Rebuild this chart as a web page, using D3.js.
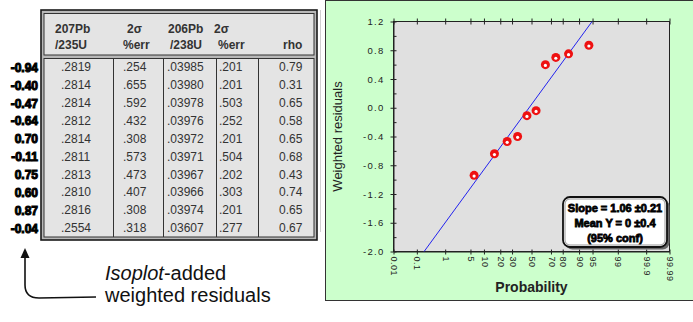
<!DOCTYPE html>
<html><head><meta charset="utf-8">
<script src="https://cdn.jsdelivr.net/npm/d3@7"></script>
<style>
html,body{margin:0;padding:0;background:#fff;}
svg{display:block;font-family:Arial,"Liberation Sans",sans-serif;}
</style></head><body>
<svg id="c" width="693" height="322"></svg>
<script>
// ---------- data ----------
const headerTop = ["207Pb", "2σ", "206Pb", "2σ", ""];
const headerBottom = ["/235U", "%err", "/238U", "%err", "rho"];
const ratio207_235 = [".2819", ".2814", ".2814", ".2812", ".2814", ".2811", ".2813", ".2810", ".2816", ".2554"];
const err207 = [".254", ".655", ".592", ".432", ".308", ".573", ".473", ".407", ".308", ".318"];
const ratio206_238 = [".03985", ".03980", ".03978", ".03976", ".03972", ".03971", ".03967", ".03966", ".03974", ".03607"];
const err206 = [".201", ".201", ".503", ".252", ".201", ".504", ".202", ".303", ".201", ".277"];
const rho = ["0.79", "0.31", "0.65", "0.58", "0.65", "0.68", "0.43", "0.74", "0.65", "0.67"];
const residuals = [-0.94, -0.40, -0.47, -0.64, 0.70, -0.11, 0.75, 0.60, 0.87, -0.04];
const plotProbabilities = [6.1, 15.9, 25.6, 35.4, 45.1, 54.9, 64.6, 74.4, 84.1, 93.9];
const probTicks = [0.01, 0.1, 1, 5, 10, 20, 30, 50, 70, 80, 90, 95, 99, 99.9, 99.99];
const residTicks = [1.2, 0.8, 0.4, 0.0, -0.4, -0.8, -1.2, -1.6, -2.0];
const residMinorTicks = [1.0, 0.6, 0.2, -0.2, -0.6, -1.0, -1.4, -1.8];
const fitSlope = 0.707, fitIntercept = 0.046;
const statsLines = ["Slope = 1.06 ±0.21", "Mean Y = 0 ±0.4", "(95% conf)"];
const noteLine1 = ["Isoplot", "-added"];
const noteLine2 = "weighted residuals";

// ---------- helpers ----------
function probit(p) {
  const a=[-3.969683028665376e+01,2.209460984245205e+02,-2.759285104469687e+02,1.383577518672690e+02,-3.066479806614716e+01,2.506628277459239e+00];
  const b=[-5.447609879822406e+01,1.615858368580409e+02,-1.556989798598866e+02,6.680131188771972e+01,-1.328068155288572e+01];
  const c=[-7.784894002430293e-03,-3.223964580411365e-01,-2.400758277161838e+00,-2.549732539343734e+00,4.374664141464968e+00,2.938163982698783e+00];
  const d=[7.784695709041462e-03,3.224671290700398e-01,2.445134137142996e+00,3.754408661907416e+00];
  const pl=0.02425, ph=1-pl; let q,r;
  if(p<pl){q=Math.sqrt(-2*Math.log(p));return (((((c[0]*q+c[1])*q+c[2])*q+c[3])*q+c[4])*q+c[5])/((((d[0]*q+d[1])*q+d[2])*q+d[3])*q+1);}
  if(p<=ph){q=p-0.5;r=q*q;return (((((a[0]*r+a[1])*r+a[2])*r+a[3])*r+a[4])*r+a[5])*q/(((((b[0]*r+b[1])*r+b[2])*r+b[3])*r+b[4])*r+1);}
  q=Math.sqrt(-2*Math.log(1-p));return -(((((c[0]*q+c[1])*q+c[2])*q+c[3])*q+c[4])*q+c[5])/((((d[0]*q+d[1])*q+d[2])*q+d[3])*q+1);
}
const fmtY = v => (v < 0 ? "-" : "") + Math.abs(v).toFixed(1);
const fmtR = v => (v < 0 ? "-" : "") + Math.abs(v).toFixed(2);

const svg = d3.select("#c");

// ---------- left: table ----------
const T = {x0: 41, y0: 10, x1: 317, y1: 240};
const colEdges = [44, 113, 163, 216, 258, 314];
const headSep = 55, bodyTop = 58.5, bodyBot = 237;
const columns = [ratio207_235, err207, ratio206_238, err206, rho];
const textX = [61, 123, 167, 219, 279];
const headX1 = [55, 127, 168, 214, 0];
const headX2 = [55, 123, 170, 218, 283];
const nRows = ratio207_235.length;
const rowY = d3.scaleBand().domain(d3.range(nRows)).range([bodyTop, bodyBot]);

svg.append("line").attr("x1", 320.5).attr("x2", 320.5).attr("y1", 10).attr("y2", 232)
  .attr("stroke", "#d0d0d0").attr("stroke-width", 1);
svg.append("rect").attr("x", T.x0).attr("y", T.y0).attr("width", T.x1 - T.x0).attr("height", T.y1 - T.y0)
  .attr("fill", "#b8b8b8").attr("stroke", "#1a1a1a").attr("stroke-width", 1.6);
svg.append("rect").attr("x", colEdges[0]).attr("y", 13.5).attr("width", colEdges[5] - colEdges[0]).attr("height", headSep - 13.5)
  .attr("fill", "#e4e4e4").attr("stroke", "#333").attr("stroke-width", 1);
svg.append("rect").attr("x", colEdges[0]).attr("y", bodyTop).attr("width", colEdges[5] - colEdges[0]).attr("height", bodyBot - bodyTop)
  .attr("fill", "#e4e4e4").attr("stroke", "#333").attr("stroke-width", 1);
svg.selectAll(".colline").data(colEdges.slice(1, 5)).join("line")
  .attr("x1", d => d + 0.5).attr("x2", d => d + 0.5).attr("y1", bodyTop).attr("y2", bodyBot)
  .attr("stroke", "#333").attr("stroke-width", 1);

const hdr = svg.append("g").attr("font-weight", "bold").attr("font-size", 12).attr("fill", "#333");
hdr.selectAll(".h1").data(headerTop).join("text").attr("x", (d, i) => headX1[i]).attr("y", 33).text(d => d);
hdr.selectAll(".h2").data(headerBottom).join("text").attr("x", (d, i) => headX2[i]).attr("y", 49).text(d => d);

const body = svg.append("g").attr("font-size", 12).attr("fill", "#333");
columns.forEach((col, ci) => {
  body.selectAll(".c" + ci).data(col).join("text")
    .attr("x", textX[ci]).attr("y", (d, i) => rowY(i) + rowY.bandwidth() / 2 + 4).text(d => d);
});

svg.append("g").attr("font-weight", "bold").attr("font-size", 12).attr("fill", "#000")
  .attr("stroke", "#000").attr("stroke-width", 1).attr("text-anchor", "end")
  .selectAll("text").data(residuals).join("text")
  .attr("x", 38).attr("y", (d, i) => rowY(i) + rowY.bandwidth() / 2 + 4.5).text(d => fmtR(d));

// annotation arrow + text
svg.append("path").attr("d", "M25,256 L25,285 Q25,298 39,298 L96,297")
  .attr("fill", "none").attr("stroke", "#111").attr("stroke-width", 1.6);
svg.append("path").attr("d", "M25,248 L20.5,258 L29.5,258 Z").attr("fill", "#111");
const n1 = svg.append("text").attr("x", 105).attr("y", 280).attr("font-size", 20).attr("fill", "#111");
n1.append("tspan").attr("font-style", "italic").text(noteLine1[0]);
n1.append("tspan").text(noteLine1[1]);
svg.append("text").attr("x", 105).attr("y", 302).attr("font-size", 20).attr("fill", "#111").text(noteLine2);

// ---------- right: probability plot ----------
svg.append("rect").attr("x", 325.5).attr("y", 0.5).attr("width", 380).attr("height", 300)
  .attr("fill", "#ccffcc").attr("stroke", "#333").attr("stroke-width", 1);

const P = {l: 393.5, r: 669.5, t: 21.5, b: 251.5};
const xz = d3.scaleLinear().domain([probit(0.0001), probit(0.9999)]).range([P.l, P.r]);
const xp = p => xz(probit(p / 100));
const y = d3.scaleLinear().domain([-2.0, 1.2]).range([P.b, P.t]);

svg.append("rect").attr("x", P.l).attr("y", P.t).attr("width", P.r - P.l).attr("height", P.b - P.t)
  .attr("fill", "#e0e0e0").attr("stroke", "#222").attr("stroke-width", 1);

const zTicks = probTicks.map(p => probit(p / 100));
const tickLbl = (d, i) => String(probTicks[i]);

// bottom axis
const gB = svg.append("g").attr("transform", `translate(0,${P.b})`)
  .call(d3.axisBottom(xz).tickValues(zTicks).tickFormat(tickLbl).tickSizeInner(3).tickSizeOuter(0).tickPadding(4));
gB.select(".domain").attr("stroke", "#222");
gB.selectAll(".tick line").attr("stroke", "#222");
gB.selectAll(".tick text").attr("font-size", 9).attr("fill", "#222").attr("font-family", "Arial")
  .attr("transform", "rotate(90)").attr("text-anchor", "start").attr("dy", "0.32em").attr("x", 5).attr("y", 0)
  .attr("letter-spacing", 0.5);
svg.append("g").attr("transform", `translate(0,${P.b})`)
  .call(d3.axisBottom(xz).tickValues(zTicks).tickFormat("").tickSizeInner(-2).tickSizeOuter(0))
  .call(g => g.select(".domain").remove()).selectAll("line").attr("stroke", "#222");

// top axis ticks
svg.append("g").attr("transform", `translate(0,${P.t})`)
  .call(d3.axisTop(xz).tickValues(zTicks).tickFormat("").tickSizeInner(3).tickSizeOuter(0))
  .call(g => g.select(".domain").remove()).selectAll("line").attr("stroke", "#222");
svg.append("g").attr("transform", `translate(0,${P.t})`)
  .call(d3.axisTop(xz).tickValues(zTicks).tickFormat("").tickSizeInner(-3).tickSizeOuter(0))
  .call(g => g.select(".domain").remove()).selectAll("line").attr("stroke", "#222");

// left axis
const gL = svg.append("g").attr("transform", `translate(${P.l},0)`)
  .call(d3.axisLeft(y).tickValues(residTicks).tickFormat(fmtY).tickSizeInner(3).tickSizeOuter(0).tickPadding(6));
gL.select(".domain").attr("stroke", "#222");
gL.selectAll(".tick line").attr("stroke", "#222");
gL.selectAll(".tick text").attr("font-size", 9.5).attr("fill", "#222").attr("font-family", "Arial").attr("letter-spacing", 1.3);
svg.append("g").attr("transform", `translate(${P.l},0)`)
  .call(d3.axisLeft(y).tickValues(residTicks.concat(residMinorTicks)).tickFormat("").tickSizeInner(-3).tickSizeOuter(0))
  .call(g => g.select(".domain").remove()).selectAll("line").attr("stroke", "#222");

// axis titles
svg.append("text").attr("transform", `translate(342,${(P.t + P.b) / 2}) rotate(-90)`)
  .attr("text-anchor", "middle").attr("font-size", 13).attr("fill", "#222").text("Weighted residuals");
svg.append("text").attr("x", (P.l + P.r) / 2).attr("y", 292).attr("text-anchor", "middle")
  .attr("font-size", 14).attr("font-weight", "bold").attr("fill", "#222").text("Probability");

// fit line (clipped)
svg.append("clipPath").attr("id", "pc").append("rect")
  .attr("x", P.l).attr("y", P.t).attr("width", P.r - P.l).attr("height", P.b - P.t);
const zLine = xz.domain();
svg.append("line").attr("clip-path", "url(#pc)")
  .attr("x1", xz(zLine[0])).attr("y1", y(fitIntercept + fitSlope * zLine[0]))
  .attr("x2", xz(zLine[1])).attr("y2", y(fitIntercept + fitSlope * zLine[1]))
  .attr("stroke", "#2222ee").attr("stroke-width", 1);

// points
const pts = d3.sort(residuals).map((v, i) => ({p: plotProbabilities[i], v}));
const gp = svg.append("g");
gp.selectAll(".pt").data(pts).join("circle").attr("cx", d => xp(d.p)).attr("cy", d => y(d.v))
  .attr("r", 4.5).attr("fill", "#ee1111");
gp.selectAll(".ptw").data(pts).join("circle").attr("cx", d => xp(d.p)).attr("cy", d => y(d.v) + 0.8)
  .attr("r", 1.6).attr("fill", "#fff");

// stats box
const B = {x: 563, y: 197, w: 104, h: 50};
svg.append("rect").attr("x", B.x + 2.5).attr("y", B.y + 2.5).attr("width", B.w).attr("height", B.h)
  .attr("rx", 7).attr("fill", "#666");
svg.append("rect").attr("x", B.x).attr("y", B.y).attr("width", B.w).attr("height", B.h)
  .attr("rx", 7).attr("fill", "#fff").attr("stroke", "#111").attr("stroke-width", 1.8);
svg.append("rect").attr("x", B.x + 2).attr("y", B.y + 2).attr("width", B.w - 4).attr("height", B.h - 4)
  .attr("rx", 5).attr("fill", "none").attr("stroke", "#999").attr("stroke-width", 1);
svg.append("g").attr("font-size", 11).attr("font-weight", "bold").attr("text-anchor", "middle")
  .attr("fill", "#000").attr("stroke", "#000").attr("stroke-width", 0.8)
  .selectAll("text").data(statsLines).join("text")
  .attr("x", B.x + B.w / 2).attr("y", (d, i) => B.y + 14.5 + i * 15.3).text(d => d);
</script>
</body></html>
